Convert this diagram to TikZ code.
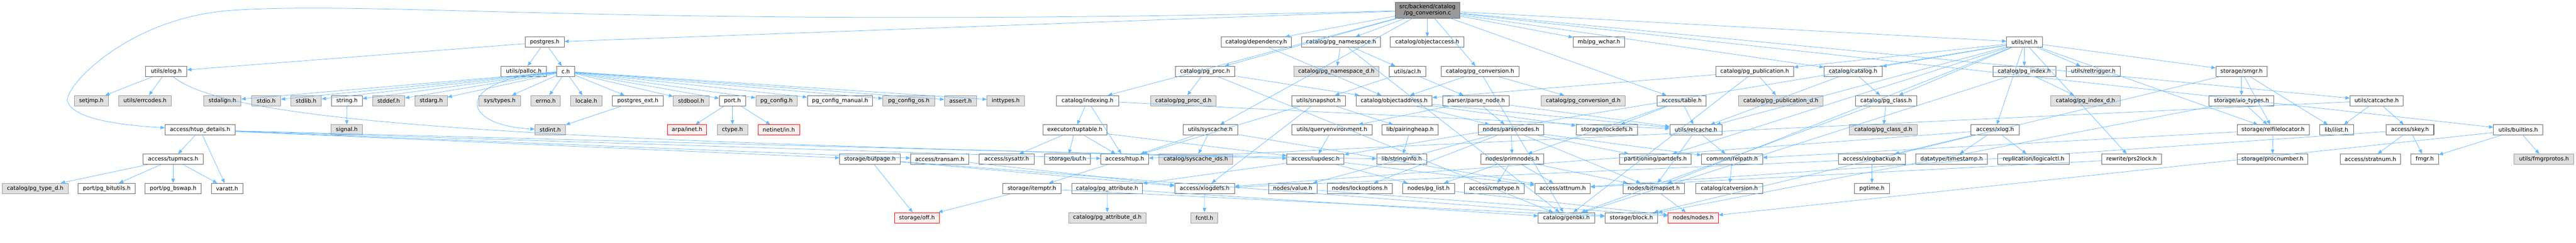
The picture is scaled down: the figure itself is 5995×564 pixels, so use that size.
\documentclass[tikz,border=0pt]{standalone}
\usepackage{fontspec}
\setmainfont{DejaVu Sans}
\usetikzlibrary{arrows.meta}

\definecolor{edgeblue}{HTML}{63B8FF}
\definecolor{boxline}{HTML}{666666}
\definecolor{extline}{HTML}{999999}
\definecolor{extfill}{HTML}{E0E0E0}
\definecolor{missfill}{HTML}{FFF0F0}

% one header box: style, name, left x, right x, centre y, label
\newcommand{\hdr}[6]{%
  \node[#1, minimum width={#4-#3}] (#2) at ({(#3+#4)/2},#5) {#6};}

\begin{document}
\begin{tikzpicture}[x=1pt, y=-1pt]
			\tikzset{
				hbox/.style={
						draw=boxline, fill=white, line width=1.2pt,
						minimum height=24, inner sep=0pt,
						font=\fontsize{13}{14}\selectfont,
					},
				extbox/.style={hbox, draw=extline, fill=extfill},
				missbox/.style={hbox, draw=red, fill=missfill},
				rootbox/.style={hbox, fill=extline, minimum height=37, align=center},
				dep/.style={
						draw=edgeblue, line width=0.9pt,
						-{Triangle[length=10pt,width=8pt]},
					},
			}
			\useasboundingbox (0,0) rectangle (5995,564);
			%
			\hdr{rootbox}{root}{3247}{3397}{23.5}{src/backend/catalog\\/pg\_conversion.c}
			% row 1
			\hdr{hbox}{postgres}{1222}{1313}{98}{postgres.h}
			\hdr{hbox}{dependency}{2842}{3005}{98}{catalog/dependency.h}
			\hdr{hbox}{pgnamespace}{3029}{3213}{98}{catalog/pg\_namespace.h}
			\hdr{hbox}{objectaccess}{3236}{3407}{98}{catalog/objectaccess.h}
			\hdr{hbox}{pgwchar}{3661}{3781}{98}{mb/pg\_wchar.h}
			\hdr{hbox}{rel}{4670}{4753}{98}{utils/rel.h}
			% row 2
			\hdr{hbox}{elog}{339}{435}{166}{utils/elog.h}
			\hdr{hbox}{palloc}{1166}{1272}{166}{utils/palloc.h}
			\hdr{hbox}{ch}{1296}{1337}{166}{c.h}
			\hdr{hbox}{pgproc}{2736}{2873}{166}{catalog/pg\_proc.h}
			\hdr{extbox}{pgnamespaced}{3011}{3209}{166}{catalog/pg\_namespace\_d.h}
			\hdr{hbox}{acl}{3233}{3318}{166}{utils/acl.h}
			\hdr{hbox}{pgconversion}{3354}{3535}{166}{catalog/pg\_conversion.h}
			\hdr{hbox}{pgpublication}{3993}{4174}{166}{catalog/pg\_publication.h}
			\hdr{hbox}{catalog}{4245}{4380}{166}{catalog/catalog.h}
			\hdr{hbox}{pgindex}{4638}{4784}{166}{catalog/pg\_index.h}
			\hdr{hbox}{reltrigger}{4809}{4934}{166}{utils/reltrigger.h}
			\hdr{hbox}{smgr}{5157}{5276}{166}{storage/smgr.h}
			% row 3
			\hdr{extbox}{setjmp}{173}{252}{234}{setjmp.h}
			\hdr{extbox}{errcodes}{276}{399}{234}{utils/errcodes.h}
			\hdr{extbox}{stdalign}{474}{561}{234}{stdalign.h}
			\hdr{extbox}{stdio}{586}{653}{234}{stdio.h}
			\hdr{extbox}{stdlib}{677}{748}{234}{stdlib.h}
			\hdr{hbox}{string}{772}{843}{234}{string.h}
			\hdr{extbox}{stddef}{867}{942}{234}{stddef.h}
			\hdr{extbox}{stdarg}{966}{1041}{234}{stdarg.h}
			\hdr{extbox}{systypes}{1115}{1211}{234}{sys/types.h}
			\hdr{extbox}{errno}{1236}{1304}{234}{errno.h}
			\hdr{extbox}{locale}{1328}{1401}{234}{locale.h}
			\hdr{hbox}{pgext}{1425}{1544}{234}{postgres\_ext.h}
			\hdr{extbox}{stdbool}{1567}{1650}{234}{stdbool.h}
			\hdr{hbox}{port}{1674}{1735}{234}{port.h}
			\hdr{extbox}{pgconfig}{1759}{1855}{234}{pg\_config.h}
			\hdr{hbox}{pgconfigmanual}{1879}{2031}{234}{pg\_config\_manual.h}
			\hdr{extbox}{pgconfigos}{2055}{2175}{234}{pg\_config\_os.h}
			\hdr{extbox}{assert}{2198}{2273}{234}{assert.h}
			\hdr{extbox}{inttypes}{2297}{2384}{234}{inttypes.h}
			\hdr{hbox}{indexing}{2459}{2603}{234}{catalog/indexing.h}
			\hdr{extbox}{pgprocd}{2678}{2830}{234}{catalog/pg\_proc\_d.h}
			\hdr{hbox}{snapshot}{3006}{3131}{234}{utils/snapshot.h}
			\hdr{hbox}{objectaddress}{3156}{3333}{234}{catalog/objectaddress.h}
			\hdr{hbox}{parsenode}{3358}{3513}{234}{parser/parse\_node.h}
			\hdr{extbox}{pgconversiond}{3587}{3782}{234}{catalog/pg\_conversion\_d.h}
			\hdr{hbox}{table}{3856}{3971}{234}{access/table.h}
			\hdr{extbox}{pgpublicationd}{4046}{4243}{234}{catalog/pg\_publication\_d.h}
			\hdr{hbox}{pgclass}{4318}{4461}{234}{catalog/pg\_class.h}
			\hdr{extbox}{pgindexd}{4773}{4934}{234}{catalog/pg\_index\_d.h}
			\hdr{hbox}{aiotypes}{5141}{5292}{234}{storage/aio\_types.h}
			\hdr{hbox}{catcache}{5469}{5593}{234}{utils/catcache.h}
			% row 4
			\hdr{hbox}{htupdetails}{384}{547}{302}{access/htup\_details.h}
			\hdr{extbox}{signal}{770}{844}{302}{signal.h}
			\hdr{extbox}{stdint}{1245}{1316}{302}{stdint.h}
			\hdr{missbox}{arpainet}{1553}{1645}{302}{arpa/inet.h}
			\hdr{extbox}{ctype}{1669}{1740}{302}{ctype.h}
			\hdr{missbox}{netinetin}{1764}{1861}{302}{netinet/in.h}
			\hdr{hbox}{tuptable}{2427}{2576}{302}{executor/tuptable.h}
			\hdr{hbox}{syscache}{2753}{2880}{302}{utils/syscache.h}
			\hdr{hbox}{queryenv}{3006}{3193}{302}{utils/queryenvironment.h}
			\hdr{hbox}{pairingheap}{3216}{3347}{302}{lib/pairingheap.h}
			\hdr{hbox}{parsenodes}{3440}{3593}{302}{nodes/parsenodes.h}
			\hdr{hbox}{lockdefs}{3668}{3811}{302}{storage/lockdefs.h}
			\hdr{hbox}{relcache}{3886}{4008}{302}{utils/relcache.h}
			\hdr{extbox}{pgclassd}{4304}{4462}{302}{catalog/pg\_class\_d.h}
			\hdr{hbox}{xlog}{4587}{4699}{302}{access/xlog.h}
			\hdr{hbox}{relfilelocator}{5206}{5374}{302}{storage/relfilelocator.h}
			\hdr{hbox}{ilist}{5398}{5477}{302}{lib/ilist.h}
			\hdr{hbox}{skey}{5553}{5664}{302}{access/skey.h}
			\hdr{hbox}{builtins}{5803}{5918}{302}{utils/builtins.h}
			% row 5
			\hdr{hbox}{tupmacs}{333}{473}{370}{access/tupmacs.h}
			\hdr{hbox}{bufpage}{1954}{2095}{370}{storage/bufpage.h}
			\hdr{hbox}{transam}{2119}{2255}{370}{access/transam.h}
			\hdr{hbox}{sysattr}{2279}{2407}{370}{access/sysattr.h}
			\hdr{hbox}{buf}{2431}{2538}{370}{storage/buf.h}
			\hdr{hbox}{htup}{2562}{2673}{370}{access/htup.h}
			\hdr{extbox}{syscacheids}{2697}{2869}{370}{catalog/syscache\_ids.h}
			\hdr{hbox}{tupdesc}{2995}{3128}{370}{access/tupdesc.h}
			\hdr{hbox}{stringinfo}{3204}{3320}{370}{lib/stringinfo.h}
			\hdr{hbox}{primnodes}{3446}{3593}{370}{nodes/primnodes.h}
			\hdr{hbox}{partdefs}{3769}{3936}{370}{partitioning/partdefs.h}
			\hdr{hbox}{relpath}{3960}{4102}{370}{common/relpath.h}
			\hdr{hbox}{xlogbackup}{4278}{4435}{370}{access/xlogbackup.h}
			\hdr{hbox}{timestamp}{4459}{4625}{370}{datatype/timestamp.h}
			\hdr{hbox}{logicalctl}{4649}{4816}{370}{replication/logicalctl.h}
			\hdr{hbox}{prslock}{4891}{5030}{370}{rewrite/prs2lock.h}
			\hdr{hbox}{procnumber}{5206}{5371}{370}{storage/procnumber.h}
			\hdr{hbox}{stratnum}{5446}{5587}{370}{access/stratnum.h}
			\hdr{hbox}{fmgr}{5611}{5675}{370}{fmgr.h}
			\hdr{extbox}{fmgrprotos}{5851}{5990}{370}{utils/fmgrprotos.h}
			% row 6
			\hdr{extbox}{pgtyped}{5}{159}{438}{catalog/pg\_type\_d.h}
			\hdr{hbox}{bitutils}{182}{315}{438}{port/pg\_bitutils.h}
			\hdr{hbox}{bswap}{338}{468}{438}{port/pg\_bswap.h}
			\hdr{hbox}{varatt}{492}{565}{438}{varatt.h}
			\hdr{hbox}{itemptr}{2334}{2469}{438}{storage/itemptr.h}
			\hdr{hbox}{pgattribute}{2494}{2659}{438}{catalog/pg\_attribute.h}
			\hdr{hbox}{xlogdefs}{2734}{2873}{438}{access/xlogdefs.h}
			\hdr{hbox}{value}{2952}{3065}{438}{nodes/value.h}
			\hdr{hbox}{lockoptions}{3089}{3240}{438}{nodes/lockoptions.h}
			\hdr{hbox}{pglist}{3264}{3385}{438}{nodes/pg\_list.h}
			\hdr{hbox}{cmptype}{3408}{3547}{438}{access/cmptype.h}
			\hdr{hbox}{attnum}{3572}{3701}{438}{access/attnum.h}
			\hdr{hbox}{bitmapset}{3777}{3920}{438}{nodes/bitmapset.h}
			\hdr{hbox}{catversion}{3947}{4102}{438}{catalog/catversion.h}
			\hdr{hbox}{pgtime}{4316}{4397}{438}{pgtime.h}
			% row 7
			\hdr{missbox}{off}{2082}{2186}{506}{storage/off.h}
			\hdr{extbox}{pgattributed}{2487}{2667}{506}{catalog/pg\_attribute\_d.h}
			\hdr{extbox}{fcntl}{2772}{2834}{506}{fcntl.h}
			\hdr{hbox}{genbki}{3580}{3711}{506}{catalog/genbki.h}
			\hdr{hbox}{block}{3735}{3858}{506}{storage/block.h}
			\hdr{missbox}{nodes}{3882}{3999}{506}{nodes/nodes.h}
			%
			% includes of the .c file
			\draw[dep] (root) -- (postgres);
			\draw[dep] (root) .. controls (1500,70) and (900,0) .. (540,24) .. controls (300,40) and (150,200) .. (157,235) .. controls (170,280) and (300,292) .. (htupdetails);
			\draw[dep] (root) -- (dependency);
			\draw[dep] (root) -- (pgnamespace);
			\draw[dep] (root) -- (objectaccess);
			\draw[dep] (root) -- (pgconversion);
			\draw[dep] (root) -- (pgproc);
			\draw[dep] (root) -- (indexing);
			\draw[dep] (root) -- (syscache);
			\draw[dep] (root) -- (pgwchar);
			\draw[dep] (root) -- (table);
			\draw[dep] (root) -- (catalog);
			\draw[dep] (root) -- (rel);
			\draw[dep] (root) -- (catcache);
			\draw[dep] (root) -- (builtins);
			% postgres.h and c.h
			\draw[dep] (postgres) -- (elog);
			\draw[dep] (postgres) -- (palloc);
			\draw[dep] (postgres) -- (ch);
			\draw[dep] (elog) -- (setjmp);
			\draw[dep] (elog) -- (errcodes);
			\draw[dep] (elog) .. controls (520,270) and (1000,330) .. (stringinfo);
			\draw[dep] (ch) -- (stdalign);
			\draw[dep] (ch) -- (stdio);
			\draw[dep] (ch) -- (stdlib);
			\draw[dep] (ch) -- (string);
			\draw[dep] (ch) -- (stddef);
			\draw[dep] (ch) -- (stdarg);
			\draw[dep] (ch) -- (systypes);
			\draw[dep] (ch) -- (errno);
			\draw[dep] (ch) -- (locale);
			\draw[dep] (ch) -- (pgext);
			\draw[dep] (ch) -- (stdbool);
			\draw[dep] (ch) -- (port);
			\draw[dep] (ch) -- (pgconfig);
			\draw[dep] (ch) -- (pgconfigmanual);
			\draw[dep] (ch) -- (pgconfigos);
			\draw[dep] (ch) -- (assert);
			\draw[dep] (ch) -- (inttypes);
			\draw[dep] (ch) .. controls (1060,180) and (1060,290) .. (stdint);
			\draw[dep] (string) -- (signal);
			\draw[dep] (pgext) -- (stdint);
			\draw[dep] (port) -- (arpainet);
			\draw[dep] (port) -- (ctype);
			\draw[dep] (port) -- (netinetin);
			% access headers
			\draw[dep] (htupdetails) -- (tupmacs);
			\draw[dep] (htupdetails) -- (varatt);
			\draw[dep] (htupdetails) -- (bufpage);
			\draw[dep] (htupdetails) -- (transam);
			\draw[dep] (htupdetails) -- (htup);
			\draw[dep] (htupdetails) -- (tupdesc);
			\draw[dep] (tupmacs) -- (pgtyped);
			\draw[dep] (tupmacs) -- (bitutils);
			\draw[dep] (tupmacs) -- (bswap);
			\draw[dep] (tupmacs) -- (varatt);
			\draw[dep] (bufpage) -- (off);
			\draw[dep] (bufpage) -- (xlogdefs);
			\draw[dep] (bufpage) -- (block);
			\draw[dep] (transam) -- (xlogdefs);
			\draw[dep] (htup) -- (itemptr);
			\draw[dep] (itemptr) -- (off);
			\draw[dep] (itemptr) -- (block);
			\draw[dep] (tuptable) -- (sysattr);
			\draw[dep] (tuptable) -- (buf);
			\draw[dep] (tuptable) -- (htup);
			\draw[dep] (tuptable) -- (tupdesc);
			\draw[dep] (indexing) -- (tuptable);
			\draw[dep] (indexing) -- (htup);
			\draw[dep] (indexing) -- (relcache);
			\draw[dep] (syscache) -- (htup);
			\draw[dep] (syscache) -- (syscacheids);
			\draw[dep] (syscache) -- (attnum);
			\draw[dep] (tupdesc) -- (attnum);
			\draw[dep] (tupdesc) -- (pgattribute);
			\draw[dep] (tupdesc) -- (pglist);
			\draw[dep] (pgattribute) -- (pgattributed);
			\draw[dep] (pgattribute) -- (genbki);
			\draw[dep] (xlogdefs) -- (fcntl);
			% catalog headers
			\draw[dep] (pgproc) -- (pgprocd);
			\draw[dep] (pgproc) -- (objectaddress);
			\draw[dep] (pgproc) -- (genbki);
			\draw[dep] (dependency) -- (objectaddress);
			\draw[dep] (pgnamespace) -- (pgnamespaced);
			\draw[dep] (pgnamespace) -- (acl);
			\draw[dep] (pgnamespace) -- (genbki);
			\draw[dep] (acl) -- (snapshot);
			\draw[dep] (acl) -- (parsenode);
			\draw[dep] (pgconversion) -- (objectaddress);
			\draw[dep] (pgconversion) -- (pgconversiond);
			\draw[dep] (pgconversion) -- (genbki);
			\draw[dep] (objectaddress) -- (parsenodes);
			\draw[dep] (objectaddress) -- (lockdefs);
			\draw[dep] (objectaddress) -- (relcache);
			\draw[dep] (snapshot) -- (pairingheap);
			\draw[dep] (snapshot) -- (htup);
			\draw[dep] (snapshot) -- (xlogdefs);
			\draw[dep] (pairingheap) -- (stringinfo);
			\draw[dep] (parsenode) -- (queryenv);
			\draw[dep] (parsenode) -- (parsenodes);
			\draw[dep] (parsenode) -- (relcache);
			\draw[dep] (queryenv) -- (tupdesc);
			\draw[dep] (parsenodes) -- (primnodes);
			\draw[dep] (parsenodes) -- (bitmapset);
			\draw[dep] (parsenodes) -- (partdefs);
			\draw[dep] (parsenodes) -- (relpath);
			\draw[dep] (parsenodes) -- (lockoptions);
			\draw[dep] (parsenodes) -- (value);
			\draw[dep] (primnodes) -- (attnum);
			\draw[dep] (primnodes) -- (bitmapset);
			\draw[dep] (primnodes) -- (cmptype);
			\draw[dep] (primnodes) -- (pglist);
			\draw[dep] (table) -- (lockdefs);
			\draw[dep] (table) -- (primnodes);
			\draw[dep] (table) -- (relcache);
			\draw[dep] (relcache) -- (bitmapset);
			\draw[dep] (relcache) -- (relpath);
			\draw[dep] (relpath) -- (catversion);
			\draw[dep] (bitmapset) -- (nodes);
			\draw[dep] (pglist) -- (nodes);
			\draw[dep] (value) -- (nodes);
			\draw[dep] (pgpublication) -- (pgpublicationd);
			\draw[dep] (pgpublication) -- (objectaddress);
			\draw[dep] (pgpublication) -- (genbki);
			\draw[dep] (catalog) -- (pgclass);
			\draw[dep] (catalog) -- (relcache);
			\draw[dep] (pgclass) -- (pgclassd);
			\draw[dep] (pgclass) -- (genbki);
			% utils/rel.h
			\draw[dep] (rel) -- (pgindex);
			\draw[dep] (rel) -- (reltrigger);
			\draw[dep] (rel) -- (xlog);
			\draw[dep] (rel) -- (prslock);
			\draw[dep] (rel) -- (smgr);
			\draw[dep] (rel) -- (relcache);
			\draw[dep] (rel) -- (pgclass);
			\draw[dep] (rel) -- (pgpublication);
			\draw[dep] (rel) -- (catalog);
			\draw[dep] (rel) -- (partdefs);
			\draw[dep] (rel) -- (tupdesc);
			\draw[dep] (rel) -- (relfilelocator);
			\draw[dep] (rel) -- (bitmapset);
			\draw[dep] (pgindex) -- (pgindexd);
			\draw[dep] (pgindex) -- (genbki);
			\draw[dep] (xlog) -- (timestamp);
			\draw[dep] (xlog) -- (logicalctl);
			\draw[dep] (xlog) -- (xlogbackup);
			\draw[dep] (xlog) -- (xlogdefs);
			\draw[dep] (xlogbackup) -- (pgtime);
			\draw[dep] (xlogbackup) -- (xlogdefs);
			\draw[dep] (prslock) -- (attnum);
			\draw[dep] (smgr) -- (aiotypes);
			\draw[dep] (smgr) -- (relfilelocator);
			\draw[dep] (smgr) -- (ilist);
			\draw[dep] (smgr) -- (block);
			\draw[dep] (aiotypes) -- (relfilelocator);
			\draw[dep] (aiotypes) -- (block);
			\draw[dep] (relfilelocator) -- (procnumber);
			\draw[dep] (relfilelocator) -- (relpath);
			% caches and builtins
			\draw[dep] (catcache) -- (skey);
			\draw[dep] (catcache) -- (ilist);
			\draw[dep] (catcache) -- (htup);
			\draw[dep] (skey) -- (stratnum);
			\draw[dep] (skey) -- (fmgr);
			\draw[dep] (skey) -- (attnum);
			\draw[dep] (builtins) -- (fmgr);
			\draw[dep] (builtins) -- (fmgrprotos);
			\draw[dep] (builtins) -- (nodes);
		\end{tikzpicture}
\end{document}
